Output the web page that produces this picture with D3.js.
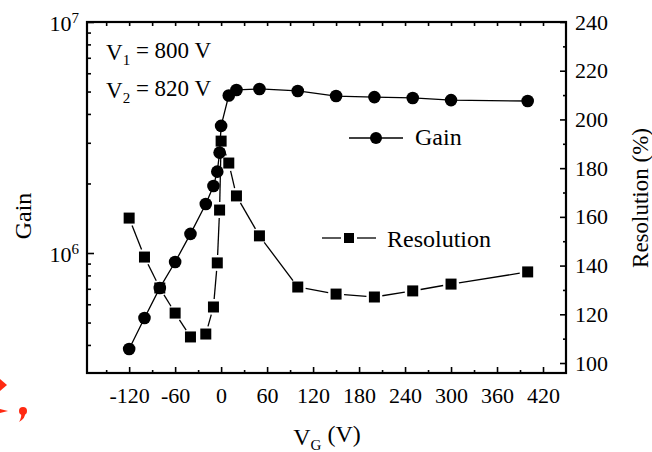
<!DOCTYPE html>
<html>
<head>
<meta charset="utf-8">
<script src="https://cdn.jsdelivr.net/npm/d3@7"></script>
<style>
  body { margin: 0; background: #fff; }
  svg text { font-family: "Liberation Serif", "Times New Roman", serif; fill: #000; }
</style>
</head>
<body>
<div id="chart"></div>
<script>
// gate voltage (V)
var vg = [-120, -100, -80, -60, -40, -20, -10, -5, -2, 0, 10, 20, 50, 100, 150, 200, 250, 300, 400];
// gain (left, log)
var gain = [3.84e5, 5.23e5, 7.06e5, 9.14e5, 1.21e6, 1.63e6, 1.95e6, 2.25e6, 2.72e6, 3.55e6,
            4.81e6, 5.08e6, 5.13e6, 5.03e6, 4.78e6, 4.73e6, 4.69e6, 4.59e6, 4.55e6];
// resolution in % (right)
var resolution = [159.5, 143.5, 130.8, 120.5, 110.7, 111.9, 123, 141.1, 162.8, 191.1,
                  182.1, 168.6, 152.2, 131.2, 128.3, 127.1, 129.6, 132.4, 137.4];

var xTicks = [-120, -60, 0, 60, 120, 180, 240, 300, 360, 420];
var xMinor = [-150, -90, -30, 30, 90, 150, 210, 270, 330, 390];
var gainTicks = [1e6, 1e7];
var gainMinor = [4e5, 5e5, 6e5, 7e5, 8e5, 9e5, 2e6, 3e6, 4e6, 5e6, 6e6, 7e6, 8e6, 9e6];
var resTicks = [100, 120, 140, 160, 180, 200, 220, 240];
var resMinor = [110, 130, 150, 170, 190, 210, 230];

var W = 652, H = 452;
var margin = {top: 22, right: 86, bottom: 79, left: 87};
var width = W - margin.left - margin.right,
    height = H - margin.top - margin.bottom;

var svg = d3.select("#chart").append("svg")
    .attr("width", W)
    .attr("height", H);

var g = svg.append("g")
    .attr("transform", "translate(" + margin.left + "," + margin.top + ")");

var x = d3.scaleLinear().domain([-175, 450]).range([0, width]);
var yG = d3.scaleLog().domain([3.024e5, 1e7]).range([height, 0]);
var yR = d3.scaleLinear().domain([95.9, 240]).range([height, 0]);

function styleAxis(sel) {
    sel.selectAll(".domain").remove();
    sel.selectAll(".tick line").attr("stroke", "#000").attr("stroke-width", 1.6);
    sel.selectAll("text").style("font-size", "22px");
}

// bottom axis
g.append("g").attr("transform", "translate(0," + height + ")")
    .call(d3.axisBottom(x).tickValues(xTicks).tickSize(-6).tickPadding(14).tickFormat(d3.format("d")))
    .call(styleAxis)
    .selectAll("text").text(function (d) { return d < 0 ? "-" + Math.abs(d) : d; });
g.append("g").attr("transform", "translate(0," + height + ")")
    .call(d3.axisBottom(x).tickValues(xMinor).tickSize(-3).tickFormat(""))
    .call(styleAxis);

// top axis (ticks only)
g.append("g")
    .call(d3.axisTop(x).tickValues(xTicks.concat(xMinor)).tickSize(-4).tickFormat(""))
    .call(styleAxis);

// left axis (log gain)
var leftAx = g.append("g")
    .call(d3.axisLeft(yG).tickValues(gainTicks).tickSize(-7).tickPadding(8).tickFormat(""))
    .call(styleAxis);
leftAx.selectAll(".tick text").each(function (d) {
    var t = d3.select(this).attr("dy", "0.4em");
    t.append("tspan").text("10");
    t.append("tspan").attr("dy", "-0.55em").style("font-size", "15px").text(Math.round(Math.log10(d)));
});
g.append("g")
    .call(d3.axisLeft(yG).tickValues(gainMinor).tickSize(-4).tickFormat(""))
    .call(styleAxis);

// right axis (resolution)
g.append("g").attr("transform", "translate(" + width + ",0)")
    .call(d3.axisRight(yR).tickValues(resTicks).tickSize(-6).tickPadding(9))
    .call(styleAxis);
g.append("g").attr("transform", "translate(" + width + ",0)")
    .call(d3.axisRight(yR).tickValues(resMinor).tickSize(-3).tickFormat(""))
    .call(styleAxis);

// frame
g.append("rect")
    .attr("width", width).attr("height", height)
    .attr("fill", "none").attr("stroke", "#000").attr("stroke-width", 2.2);

// data
var pts = vg.map(function (v, i) {
    return {x: x(v), yg: yG(gain[i]), yr: yR(resolution[i])};
});

// resolution: segments with a small gap around the squares
var gap = 8;
var segs = [];
for (var i = 0; i < pts.length - 1; i++) {
    var a = pts[i], b = pts[i + 1];
    var dx = b.x - a.x, dy = b.yr - a.yr, len = Math.sqrt(dx * dx + dy * dy);
    if (len > 2 * gap) {
        segs.push([a.x + dx * gap / len, a.yr + dy * gap / len, b.x - dx * gap / len, b.yr - dy * gap / len]);
    }
}
g.selectAll(".rseg").data(segs).enter().append("line")
    .attr("x1", function (d) { return d[0]; })
    .attr("y1", function (d) { return d[1]; })
    .attr("x2", function (d) { return d[2]; })
    .attr("y2", function (d) { return d[3]; })
    .attr("stroke", "#000").attr("stroke-width", 1.3);

var sq = 11;
g.selectAll(".sq").data(pts).enter().append("rect")
    .attr("x", function (d) { return d.x - sq / 2; })
    .attr("y", function (d) { return d.yr - sq / 2; })
    .attr("width", sq).attr("height", sq)
    .attr("fill", "#000");

var line = d3.line().x(function (d) { return d.x; }).y(function (d) { return d.yg; });
g.append("path").datum(pts)
    .attr("d", line)
    .attr("fill", "none").attr("stroke", "#000").attr("stroke-width", 1.3);

g.selectAll(".dot").data(pts).enter().append("circle")
    .attr("cx", function (d) { return d.x; })
    .attr("cy", function (d) { return d.yg; })
    .attr("r", 6.3)
    .attr("fill", "#000");

// legend
svg.append("line").attr("x1", 349).attr("x2", 403).attr("y1", 138).attr("y2", 138)
    .attr("stroke", "#000").attr("stroke-width", 1.3);
svg.append("circle").attr("cx", 376).attr("cy", 138).attr("r", 6).attr("fill", "#000");
svg.append("text").attr("x", 415).attr("y", 145).style("font-size", "24px").text("Gain");

svg.append("line").attr("x1", 322).attr("x2", 341).attr("y1", 238).attr("y2", 238)
    .attr("stroke", "#000").attr("stroke-width", 1.3);
svg.append("line").attr("x1", 357).attr("x2", 376).attr("y1", 238).attr("y2", 238)
    .attr("stroke", "#000").attr("stroke-width", 1.3);
svg.append("rect").attr("x", 344).attr("y", 233).attr("width", 10).attr("height", 10).attr("fill", "#000");
svg.append("text").attr("x", 387).attr("y", 247).style("font-size", "24px").text("Resolution");

// annotation
var ann = [["1", "800"], ["2", "820"]];
ann.forEach(function (a, i) {
    var t = svg.append("text").attr("x", 106).attr("y", 60 + i * 38).style("font-size", "23px");
    t.append("tspan").text("V");
    t.append("tspan").attr("dy", "0.3em").style("font-size", "15px").text(a[0]);
    t.append("tspan").attr("dy", "-0.3em").text(" = " + a[1] + " V");
});

// axis titles
svg.append("text")
    .attr("transform", "translate(31,216) rotate(-90)")
    .attr("text-anchor", "middle")
    .style("font-size", "24px")
    .text("Gain");

svg.append("text")
    .attr("transform", "translate(648,198) rotate(-90)")
    .attr("text-anchor", "middle")
    .style("font-size", "23px")
    .text("Resolution (%)");

var xt = svg.append("text")
    .attr("x", 327).attr("y", 445)
    .attr("text-anchor", "middle")
    .style("font-size", "24px");
xt.append("tspan").text("V");
xt.append("tspan").attr("dy", "0.3em").style("font-size", "15px").text("G");
xt.append("tspan").attr("dy", "-0.3em").text(" (V)");

// red marks at the left edge
svg.append("path").attr("d", "M0,379 L7,385 L0,391 Z").attr("fill", "#ff2a12");
svg.append("path").attr("d", "M0,409 L8,411 L0,413 Z").attr("fill", "#ff2a12");
svg.append("circle").attr("cx", 23).attr("cy", 411).attr("r", 4).attr("fill", "#ff2a12");
svg.append("path").attr("d", "M25,412 Q26,418 19,422 Q22,417 21,413 Z").attr("fill", "#ff2a12");
</script>
</body>
</html>
